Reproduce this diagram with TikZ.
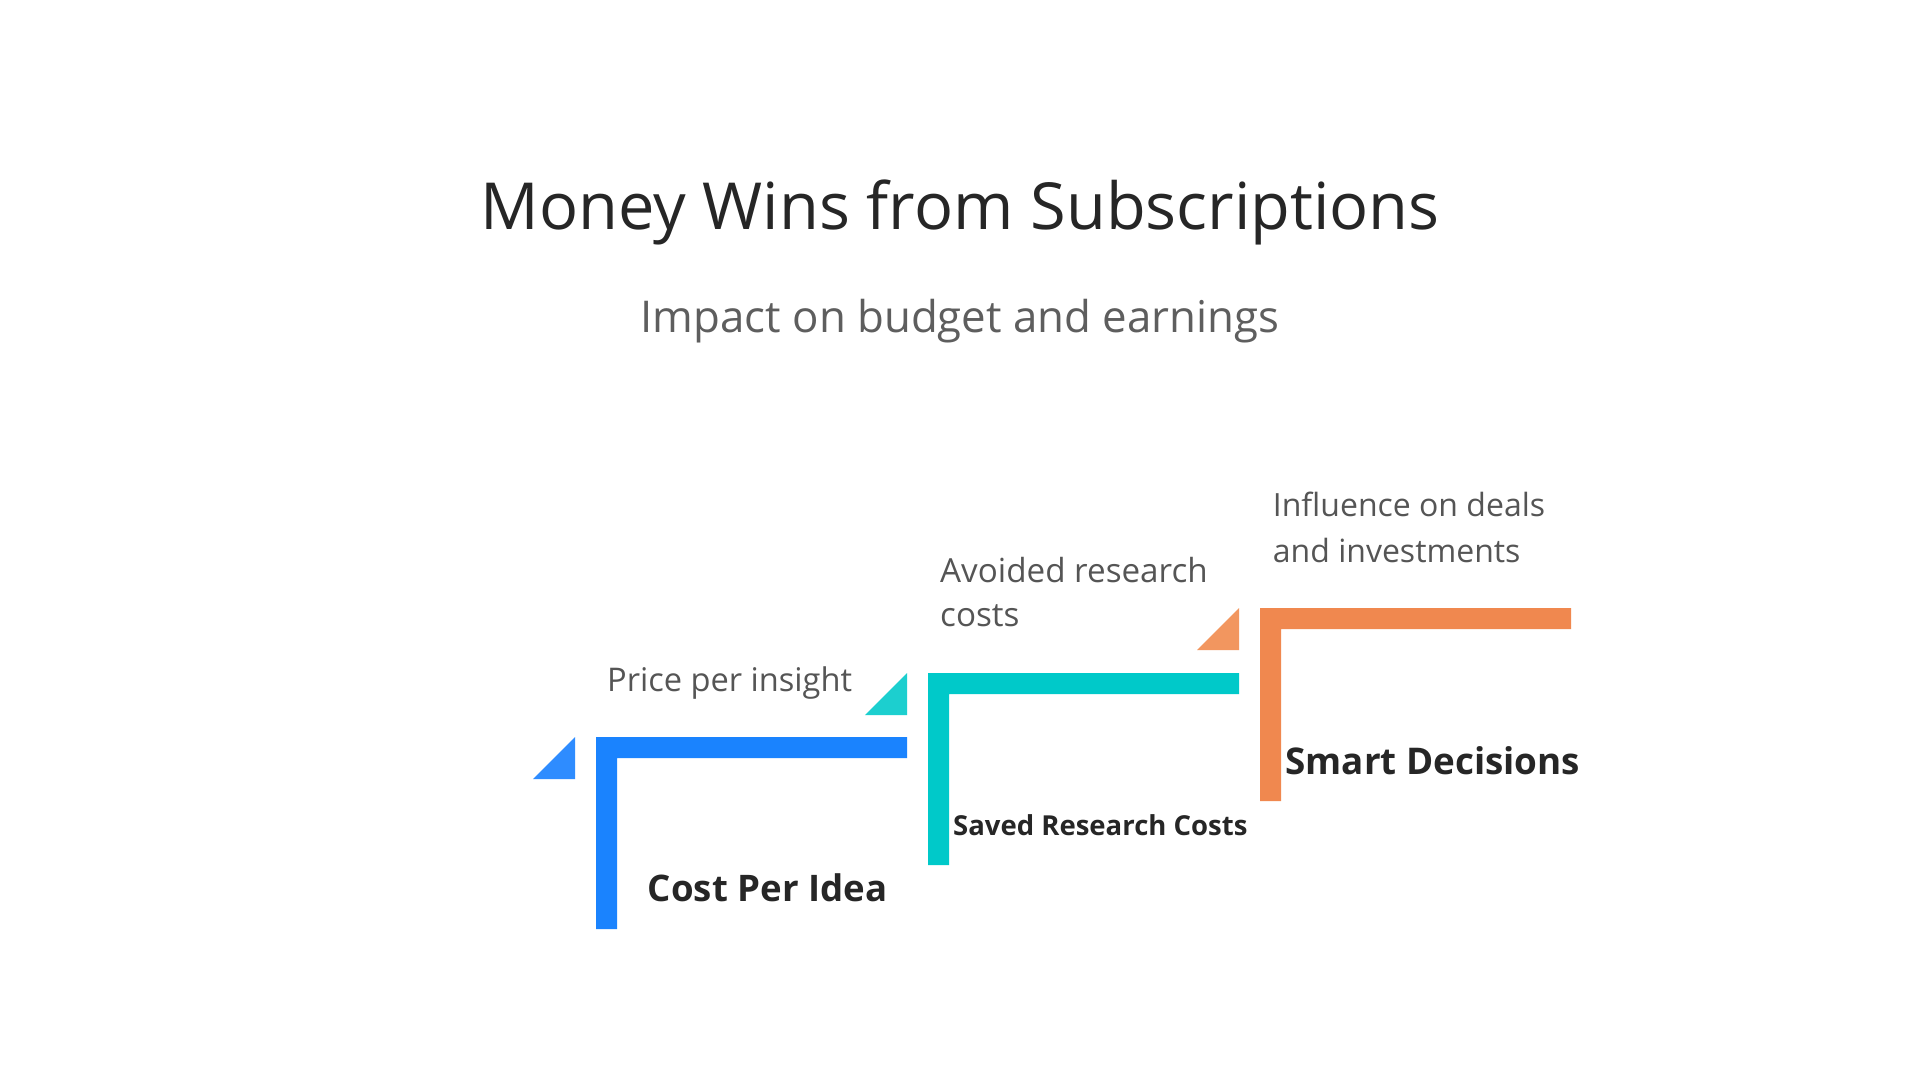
\documentclass[tikz,border=0pt]{standalone}
\usepackage{fontspec}
\setmainfont{Open Sans}
\usepackage{tikz}
\usetikzlibrary{positioning}
\definecolor{stepblue}{HTML}{1A83FE}
\definecolor{stepbluetip}{HTML}{2E8CFF}
\definecolor{stepteal}{HTML}{00C9C9}
\definecolor{steptealtip}{HTML}{1CCFCF}
\definecolor{steporange}{HTML}{F0884F}
\definecolor{steporangetip}{HTML}{F2965F}
\definecolor{titlegray}{HTML}{262626}
\definecolor{notegray}{HTML}{555555}

\begin{document}
\begin{tikzpicture}[x=1pt, y=-1pt,
    note/.style={anchor=base west, inner sep=0pt, align=left, text=notegray,
      font=\fontsize{32.6}{44.6}\selectfont},
    stage/.style={anchor=base west, inner sep=0pt, text=titlegray}]
    \useasboundingbox[fill=white] (0,0) rectangle (1920,1080);
    % Title
    \node[inner sep=0pt, anchor=base, text=titlegray, font=\fontsize{64.9}{70}\selectfont]
      (title) at (960,229.3) {Money Wins from Subscriptions};
    \node[inner sep=0pt, anchor=base, text=notegray!95, font=\fontsize{43.8}{48}\selectfont]
      (subtitle) at (960,332.7) {Impact on budget and earnings};

    % Step 1
    \fill[stepblue] (596,737) -- (907,737) -- (907,758) -- (617,758) -- (617,929) -- (596,929) -- cycle;
    \fill[stepbluetip] (575,737) -- (575,779) -- (533,779) -- cycle;
    \node[note] (price) at (607,691.7) {Price per insight};
    \node[stage, font=\fontsize{36.6}{40}\selectfont\bfseries] (cost) at (647.7,901.7) {Cost Per Idea};

    % Step 2
    \fill[stepteal] (928,673) -- (1239,673) -- (1239,694) -- (949,694) -- (949,865) -- (928,865) -- cycle;
    \fill[steptealtip] (907,673) -- (907,715) -- (865,715) -- cycle;
    \node[note, font=\fontsize{33.2}{44.4}\selectfont] (avoided) at (940,626.7) {Avoided research\\costs};
    \node[stage, font=\fontsize{27.5}{32}\selectfont\bfseries] (saved) at (953,835.7) {Saved Research Costs};

    % Step 3
    \fill[steporange] (1260,608) -- (1571,608) -- (1571,629) -- (1281,629) -- (1281,801) -- (1260,801) -- cycle;
    \fill[steporangetip] (1239,608) -- (1239,650) -- (1197,650) -- cycle;
    \node[note, font=\fontsize{32}{45.6}\selectfont] (influence) at (1272.7,562.3) {Influence on deals\\and investments};
    \node[stage, font=\fontsize{36.8}{40}\selectfont\bfseries] (smart) at (1285.3,774) {Smart Decisions};

  \end{tikzpicture}
\end{document}
